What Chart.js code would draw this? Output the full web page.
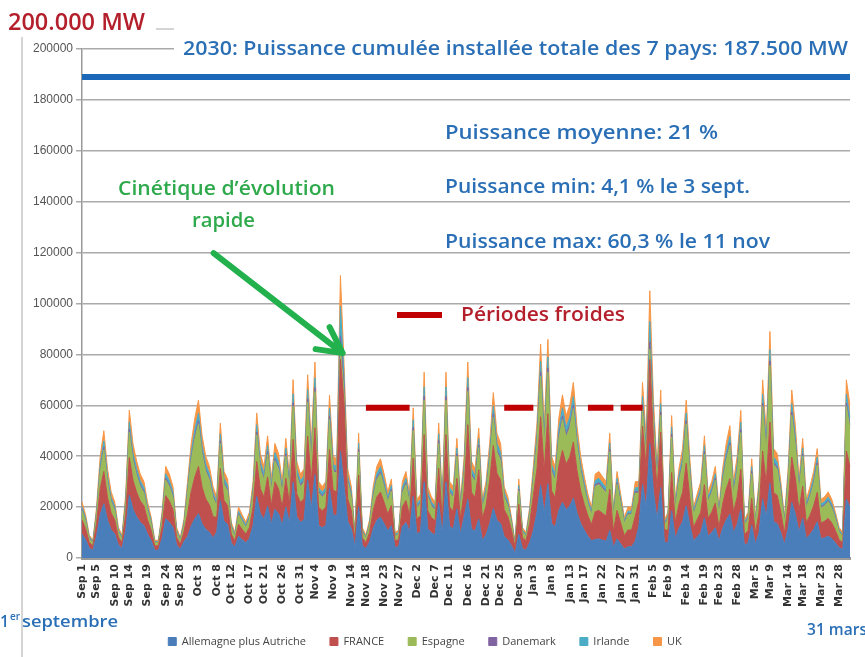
<!DOCTYPE html>
<html>
<head>
<meta charset="utf-8">
<script src="https://cdn.jsdelivr.net/npm/chart.js@4.4.1/dist/chart.umd.min.js"></script>
<style>
  body { margin: 0; background: #fff; }
  canvas { display: block; }
</style>
</head>
<body>
<canvas id="myChart" width="865" height="657"></canvas>
<script>
// months shown on the axis (Sep 1 -> Mar 31, one point per day)
const monthNames = ['Sep', 'Oct', 'Nov', 'Dec', 'Jan', 'Feb', 'Mar'];
const monthLengths = [30, 31, 30, 31, 31, 28, 31];

// labels printed under the axis
const tickLabels = ['Sep 1', 'Sep 5', 'Sep 10', 'Sep 14', 'Sep 19', 'Sep 24', 'Sep 28',
  'Oct 3', 'Oct 8', 'Oct 12', 'Oct 17', 'Oct 21', 'Oct 26', 'Oct 31',
  'Nov 4', 'Nov 9', 'Nov 14', 'Nov 18', 'Nov 23', 'Nov 27',
  'Dec 2', 'Dec 7', 'Dec 11', 'Dec 16', 'Dec 21', 'Dec 25', 'Dec 30',
  'Jan 3', 'Jan 8', 'Jan 13', 'Jan 17', 'Jan 22', 'Jan 27', 'Jan 31',
  'Feb 5', 'Feb 9', 'Feb 14', 'Feb 19', 'Feb 23', 'Feb 28',
  'Mar 5', 'Mar 9', 'Mar 14', 'Mar 18', 'Mar 23', 'Mar 28'];

const yTicks = [0, 20000, 40000, 60000, 80000, 100000, 120000, 140000, 160000, 180000, 200000];

// wind output per country, MW (daily)
const allemagne = [9400, 7200, 3800, 3000, 8500, 17000, 21300, 14900, 11100, 9400, 5100, 3800, 10600, 24700, 19100, 16200, 14000, 12800, 9400, 6800, 3000, 3000, 7700, 15300, 14000, 11900, 5100, 3400, 6400,
  8400, 12600, 15400, 17400, 13400, 11200, 10100, 7800,
  10200, 22500, 14500, 13200, 6000, 4300, 8500, 7200, 6000, 7700, 12800, 24200, 17400, 15300, 20400, 13200, 19100, 17400, 12800, 20000, 13600, 29800, 16200, 14000, 14900, 30600, 19100, 32700, 12800, 11900, 12800, 27200, 17000, 16600,
  42000, 28000,
  14400, 11500, 4100, 20100, 4900, 3700, 6200, 11500, 14800, 16000, 13500, 10700, 12700, 4100, 4500, 12300, 13900, 10300, 24200, 9400, 10300, 29900, 11500, 9800, 9000, 21700, 9400, 29900, 12300, 11500, 19300, 9400, 16400,
  23100, 11400, 10500, 15300, 6900, 9000, 13500, 19500, 14700, 13500, 8400, 7200, 4800, 1800, 9300, 3600, 3000, 6000, 10800,
  18000, 28600, 17700, 29200, 13600, 12200, 18700, 21800, 19000, 20400, 23500, 17700, 13600, 10900, 8500, 6800,
  7300, 7500, 7000, 6600, 10800, 4200, 7500, 5500, 3500, 4400, 4400, 6600,
  12600, 29000, 19700, 45000, 26000, 15100, 27700, 6300,
  5900, 18500, 7600, 11600, 14200, 20500, 12900, 6600, 8300, 9900, 15800, 8600, 9900, 11900, 6600, 11600, 14900, 17200, 9900, 13200, 19100, 5000, 5900, 12900, 5300, 9900, 23100, 16200, 29400, 14200, 13500, 9900, 5300, 11600, 21800, 17200, 10200, 15500, 7600, 9200, 11200, 14200, 7600, 7900, 8600, 7600, 5900, 4000, 3300, 23100, 19800];

const france = [5600, 4300, 2300, 1800, 5100, 10200, 12700, 8900, 6600, 5600, 3100, 2300, 6400, 14800, 11500, 9700, 8400, 7700, 5600, 4100, 1800, 1800, 4600, 9200, 8400, 7100, 3100, 2000, 3800,
  9000, 13500, 16500, 18600, 14400, 12000, 10800, 8400,
  5800, 12700, 8200, 7400, 3400, 2400, 4800, 4100, 3400, 4300, 7200, 13700, 9800, 8600, 11500, 7400, 10800, 9800, 7200, 11300, 7700, 16800, 9100, 7900, 8400, 17300, 10800, 18500, 7200, 6700, 7200, 15400, 9600, 9400,
  36000, 33000,
  8900, 7100, 2600, 12500, 3100, 2300, 3800, 7100, 9200, 9900, 8400, 6600, 7900, 2600, 2800, 7700, 8700, 6400, 15000, 5900, 6400, 18600, 7100, 6100, 5600, 13500, 5900, 18600, 7700, 7100, 12000, 5900, 10200,
  29300, 14400, 13300, 19400, 8700, 11400, 17100, 24700, 18600, 17100, 10600, 9100, 6100, 2300, 11800, 4600, 3800, 7600, 13700,
  17000, 26900, 16600, 27500, 12800, 11500, 17600, 20500, 17900, 19200, 22100, 16600, 12800, 10200, 8000, 6400,
  10900, 11200, 10600, 9900, 16200, 6300, 11200, 8300, 5300, 6600, 6600, 9900,
  9900, 22800, 15500, 33000, 20500, 11900, 21800, 5000,
  4900, 15100, 6200, 9500, 11600, 16700, 10500, 5400, 6800, 8100, 13000, 7000, 8100, 9700, 5400, 9500, 12200, 14000, 8100, 10800, 15700, 4100, 4900, 10500, 4300, 8100, 18900, 13200, 24000, 11600, 11100, 8100, 4300, 9500, 17800, 14000, 8400, 12700, 6200, 7600, 9200, 11600, 6200, 6500, 7000, 6200, 4900, 3200, 2700, 18900, 16200];

const espagne = [3700, 2900, 1500, 1200, 3400, 6800, 8500, 6000, 4400, 3700, 2000, 1500, 4300, 9900, 7700, 6500, 5600, 5100, 3700, 2700, 1200, 1200, 3100, 6100, 5600, 4800, 2000, 1400, 2600,
  8100, 12200, 14900, 16700, 13000, 10800, 9700, 7600,
  4400, 9800, 6300, 5700, 2600, 1800, 3700, 3100, 2600, 3300, 5600, 10500, 7600, 6700, 8900, 5700, 8300, 7600, 5600, 8700, 5900, 13000, 7000, 6100, 6500, 13300, 8300, 14200, 5600, 5200, 5600, 11800, 7400, 7200,
  4000, 4000,
  6500, 5200, 1800, 9100, 2200, 1700, 2800, 5200, 6700, 7200, 6100, 4800, 5700, 1800, 2000, 5500, 6300, 4600, 10900, 4300, 4600, 13500, 5200, 4400, 4100, 9800, 4300, 13500, 5500, 5200, 8700, 4300, 7400,
  13100, 6500, 6000, 8700, 3900, 5100, 7700, 11100, 8300, 7700, 4800, 4100, 2700, 1000, 5300, 2000, 1700, 3400, 6100,
  10100, 16000, 9900, 16300, 7600, 6800, 10500, 12200, 10600, 11400, 13100, 9900, 7600, 6100, 4800, 3800,
  9900, 10200, 9600, 9000, 14700, 5700, 10200, 7500, 4800, 6000, 6000, 9000,
  3000, 6900, 4700, 4000, 6200, 3600, 6600, 1500,
  4500, 14000, 5800, 8800, 10800, 15500, 9800, 5000, 6300, 7500, 12000, 6500, 7500, 9000, 5000, 8800, 11300, 13000, 7500, 10000, 14500, 3800, 4500, 9800, 4000, 7500, 17500, 12300, 22300, 10800, 10300, 7500, 4000, 8800, 16500, 13000, 7800, 11800, 5800, 7000, 8500, 10800, 5800, 6000, 6500, 5800, 4500, 3000, 2500, 17500, 15000];

const danemark = [400, 300, 200, 200, 400, 800, 1000, 700, 500, 400, 200, 200, 500, 1200, 900, 800, 700, 600, 400, 300, 200, 200, 400, 700, 700, 600, 200, 200, 300,
  600, 900, 1100, 1200, 1000, 800, 700, 600,
  500, 1100, 700, 600, 300, 200, 400, 300, 300, 400, 600, 1100, 800, 700, 1000, 600, 900, 800, 600, 900, 600, 1400, 800, 700, 700, 1400, 900, 1500, 600, 600, 600, 1300, 800, 800,
  5000, 2000,
  700, 600, 200, 1000, 200, 200, 300, 600, 700, 800, 700, 500, 600, 200, 200, 600, 700, 500, 1200, 500, 500, 1500, 600, 500, 400, 1100, 500, 1500, 600, 600, 900, 500, 800,
  1500, 800, 700, 1000, 500, 600, 900, 1300, 1000, 900, 600, 500, 300, 200, 600, 200, 200, 400, 700,
  1100, 1700, 1000, 1700, 800, 700, 1100, 1300, 1100, 1200, 1400, 1000, 800, 600, 500, 400,
  700, 700, 600, 600, 1000, 400, 700, 500, 300, 400, 400, 600,
  600, 1400, 900, 3000, 1200, 700, 1300, 300,
  400, 1100, 500, 700, 900, 1200, 800, 400, 500, 600, 1000, 500, 600, 700, 400, 700, 900, 1000, 600, 800, 1200, 300, 400, 800, 300, 600, 1400, 1000, 1800, 900, 800, 600, 300, 700, 1300, 1000, 600, 900, 500, 600, 700, 900, 500, 500, 500, 500, 400, 200, 200, 1400, 1200];

const irlande = [1100, 900, 500, 300, 1000, 2000, 2500, 1800, 1300, 1100, 600, 500, 1200, 2900, 2200, 1900, 1700, 1500, 1100, 800, 300, 300, 900, 1800, 1700, 1400, 600, 400, 700,
  1500, 2200, 2700, 3100, 2400, 2000, 1800, 1400,
  1200, 2700, 1700, 1600, 700, 500, 1000, 900, 700, 900, 1500, 2900, 2100, 1800, 2400, 1600, 2300, 2100, 1500, 2300, 1600, 3500, 1900, 1700, 1700, 3600, 2300, 3900, 1500, 1400, 1500, 3200, 2000, 1900,
  12000, 4000,
  1700, 1400, 500, 2400, 600, 400, 700, 1400, 1800, 2000, 1700, 1300, 1600, 500, 600, 1500, 1700, 1200, 3000, 1100, 1200, 3700, 1400, 1200, 1100, 2700, 1100, 3700, 1500, 1400, 2300, 1100, 2000,
  3900, 1900, 1700, 2500, 1200, 1500, 2200, 3200, 2500, 2200, 1400, 1200, 800, 300, 1500, 600, 500, 1000, 1800,
  2600, 4200, 2600, 4300, 2000, 1800, 2700, 3200, 2800, 3000, 3400, 2600, 2000, 1600, 1200, 1000,
  1600, 1700, 1600, 1500, 2400, 900, 1700, 1200, 800, 1000, 1000, 1500,
  1500, 3400, 2400, 8000, 3100, 1800, 3300, 700,
  900, 2800, 1100, 1700, 2100, 3100, 1900, 1000, 1200, 1500, 2400, 1300, 1500, 1800, 1000, 1700, 2200, 2600, 1500, 2000, 2900, 700, 900, 1900, 800, 1500, 3500, 2400, 4400, 2100, 2000, 1500, 800, 1700, 3300, 2600, 1500, 2300, 1100, 1400, 1700, 2100, 1100, 1200, 1300, 1100, 900, 600, 500, 3500, 3000];

const uk = [1800, 1400, 700, 500, 1600, 3200, 4000, 2800, 2100, 1800, 1000, 700, 2000, 4600, 3600, 3000, 2600, 2400, 1800, 1300, 500, 500, 1400, 2900, 2600, 2200, 1000, 600, 1200,
  2400, 3600, 4400, 5000, 3800, 3200, 2900, 2200,
  1900, 4200, 2700, 2500, 1100, 800, 1600, 1400, 1100, 1400, 2400, 4600, 3300, 2900, 3800, 2500, 3600, 3300, 2400, 3800, 2600, 5600, 3000, 2600, 2800, 5800, 3600, 6200, 2400, 2200, 2400, 5100, 3200, 3100,
  12000, 5000,
  2800, 2200, 800, 3900, 1000, 700, 1200, 2200, 2800, 3100, 2600, 2100, 2500, 800, 900, 2400, 2700, 2000, 4700, 1800, 2000, 5800, 2200, 2000, 1800, 4200, 1800, 5800, 2400, 2200, 3800, 1800, 3200,
  6100, 3000, 2800, 4100, 1800, 2400, 3600, 5200, 3900, 3600, 2200, 1900, 1300, 400, 2500, 1000, 800, 1600, 2900,
  4200, 6700, 4200, 6900, 3200, 2900, 4400, 5100, 4500, 4800, 5500, 4200, 3200, 2600, 2000, 1600,
  2600, 2700, 2600, 2400, 3900, 1500, 2700, 2000, 1300, 1600, 1600, 2400,
  2400, 5500, 3800, 12000, 5000, 2900, 5300, 1200,
  1400, 4500, 1800, 2700, 3400, 5000, 3100, 1600, 2000, 2400, 3800, 2100, 2400, 2900, 1600, 2700, 3500, 4200, 2400, 3200, 4600, 1100, 1400, 3100, 1300, 2400, 5600, 3900, 7100, 3400, 3300, 2400, 1300, 2700, 5300, 4200, 2500, 3800, 1800, 2200, 2700, 3400, 1800, 1900, 2100, 1800, 1400, 1000, 800, 5600, 4800];

// 2030 installed capacity line and the cold spells
const capacity2030 = 189000;
const coldLevel = 59000;
const coldPeriods = [['Nov 18', 'Nov 30'], ['Dec 26', 'Jan 3'], ['Jan 18', 'Jan 25'], ['Jan 27', 'Feb 2']];

const seriesNames = ['Allemagne plus Autriche', 'FRANCE', 'Espagne', 'Danemark', 'Irlande', 'UK'];
const seriesColors = ['#4a7ebb', '#c0504d', '#9bbb59', '#8064a2', '#4bacc6', '#f79646'];
const seriesData = [allemagne, france, espagne, danemark, irlande, uk];

// day labels
const dayLabels = [];
monthNames.forEach((m, i) => {
  for (let d = 1; d <= monthLengths[i]; d++) dayLabels.push(m + ' ' + d);
});

const datasets = seriesData.map((arr, i) => ({
  label: seriesNames[i],
  data: arr,
  backgroundColor: seriesColors[i],
  borderColor: seriesColors[i],
  borderWidth: 1,
  pointRadius: 0,
  tension: 0,
  fill: i === 0 ? 'origin' : '-1'
}));

datasets.push({
  label: 'capacite2030',
  data: [{ x: dayLabels[0], y: capacity2030 }, { x: dayLabels[dayLabels.length - 1], y: capacity2030 }],
  borderColor: '#1c68b8',
  borderWidth: 6,
  pointRadius: 0,
  fill: false,
  stack: 'cap',
  order: -1
});

const coldData = [];
coldPeriods.forEach(p => {
  coldData.push({ x: p[0], y: coldLevel }, { x: p[1], y: coldLevel }, { x: p[1], y: null });
});
datasets.push({
  label: 'froid',
  data: coldData,
  borderColor: '#c00000',
  borderWidth: 6,
  borderCapStyle: 'butt',
  pointRadius: 0,
  fill: false,
  spanGaps: false,
  stack: 'cold',
  order: -2
});

function fitText(ctx, txt, x, y, w, font, color) {
  ctx.save();
  ctx.font = font;
  ctx.fillStyle = color;
  ctx.textBaseline = 'alphabetic';
  ctx.textAlign = 'left';
  const m = ctx.measureText(txt).width;
  ctx.translate(x, y);
  ctx.scale(w / m, 1);
  ctx.fillText(txt, 0, 0);
  ctx.restore();
}

const blueTxt = '#2a6fb6';
const redTxt = '#b41f2c';
const greenTxt = '#2eaa4c';

// texts and arrow on top of the chart
const notes = {
  id: 'notes',
  afterDraw(chart) {
    const ctx = chart.ctx;
    const xs = chart.scales.x, ys = chart.scales.y;
    ctx.save();
    // frame
    ctx.strokeStyle = '#c8c8c8';
    ctx.lineWidth = 1.5;
    ctx.beginPath();
    ctx.moveTo(22, 657); ctx.lineTo(22, 29); ctx.lineTo(865, 29);
    ctx.stroke();
    ctx.fillStyle = '#fff';
    ctx.fillRect(0, 0, 156, 37);
    ctx.fillRect(174, 22, 691, 40);

    fitText(ctx, '200.000 MW', 8, 30, 137, '600 24px "Open Sans"', redTxt);
    fitText(ctx, '2030: Puissance cumulée installée totale des 7 pays: 187.500 MW', 183, 55, 665, '600 20px "Open Sans"', blueTxt);
    fitText(ctx, 'Puissance moyenne: 21 %', 445, 139, 273, '600 20px "Open Sans"', blueTxt);
    fitText(ctx, 'Puissance min: 4,1 % le 3 sept.', 445, 193, 305, '600 20px "Open Sans"', blueTxt);
    fitText(ctx, 'Puissance max: 60,3 % le 11 nov', 445, 248, 325, '600 20px "Open Sans"', blueTxt);
    fitText(ctx, 'Cinétique d\u2019évolution', 118, 195, 217, '600 20px "Open Sans"', greenTxt);
    fitText(ctx, 'rapide', 192, 227, 63, '600 20px "Open Sans"', greenTxt);
    fitText(ctx, 'Périodes froides', 461, 321, 164, '600 20px "Open Sans"', redTxt);

    // legend key for cold spells
    ctx.strokeStyle = '#c00000';
    ctx.lineWidth = 6;
    ctx.beginPath();
    ctx.moveTo(397, 315); ctx.lineTo(442, 315);
    ctx.stroke();

    // green arrow, tip on the Nov 11 ramp
    const tx = xs.getPixelForValue(71.6), ty = ys.getPixelForValue(80500);
    ctx.strokeStyle = '#22b14c';
    ctx.lineWidth = 6;
    ctx.lineCap = 'round';
    ctx.lineJoin = 'round';
    ctx.beginPath();
    ctx.moveTo(tx - 129, ty - 100); ctx.lineTo(tx, ty);
    ctx.moveTo(tx - 27, ty - 4); ctx.lineTo(tx, ty); ctx.lineTo(tx - 13, ty - 26);
    ctx.stroke();

    // period bounds
    fitText(ctx, '1', 0, 627, 9, '600 17px "Open Sans"', blueTxt);
    fitText(ctx, 'er', 10, 620, 10, '600 10px "Open Sans"', blueTxt);
    fitText(ctx, 'septembre', 22, 627, 96, '600 17px "Open Sans"', blueTxt);
    fitText(ctx, '31 mars', 807, 635, 60, '600 17px "Open Sans"', blueTxt);
    ctx.restore();
  }
};

const config = {
  type: 'line',
  data: { labels: dayLabels, datasets },
  options: {
    responsive: false,
    animation: false,
    layout: { padding: { top: 49, right: 15, left: 0, bottom: 0 } },
    plugins: {
      legend: {
        position: 'bottom',
        labels: {
          filter: item => item.datasetIndex < 6,
          boxWidth: 8,
          boxHeight: 8,
          padding: 24,
          color: '#444',
          font: { family: 'Open Sans', size: 11 }
        }
      },
      tooltip: { enabled: false }
    },
    scales: {
      x: {
        ticks: {
          autoSkip: false,
          maxRotation: 90,
          minRotation: 90,
          padding: 6,
          color: '#333',
          font: { family: 'DejaVu Sans', size: 11, weight: 'bold' },
          callback: v => tickLabels.includes(dayLabels[v]) ? dayLabels[v] : null
        },
        grid: { display: false, drawTicks: false },
        border: { color: '#999', width: 3 },
        afterFit: s => { s.height = 54; }
      },
      y: {
        stacked: true,
        min: yTicks[0],
        max: yTicks[yTicks.length - 1],
        afterBuildTicks: s => { s.ticks = yTicks.map(v => ({ value: v })); },
        ticks: {
          color: '#555',
          padding: 3,
          font: { family: 'Liberation Sans', size: 12 },
          callback: v => String(v)
        },
        grid: { color: '#aaa', lineWidth: 1.5, tickLength: 6 },
        border: { color: '#999', width: 1.5 },
        afterFit: s => { s.width = 82; }
      }
    }
  },
  plugins: [notes]
};

const myChart = new Chart(document.getElementById('myChart'), config);
</script>
</body>
</html>
